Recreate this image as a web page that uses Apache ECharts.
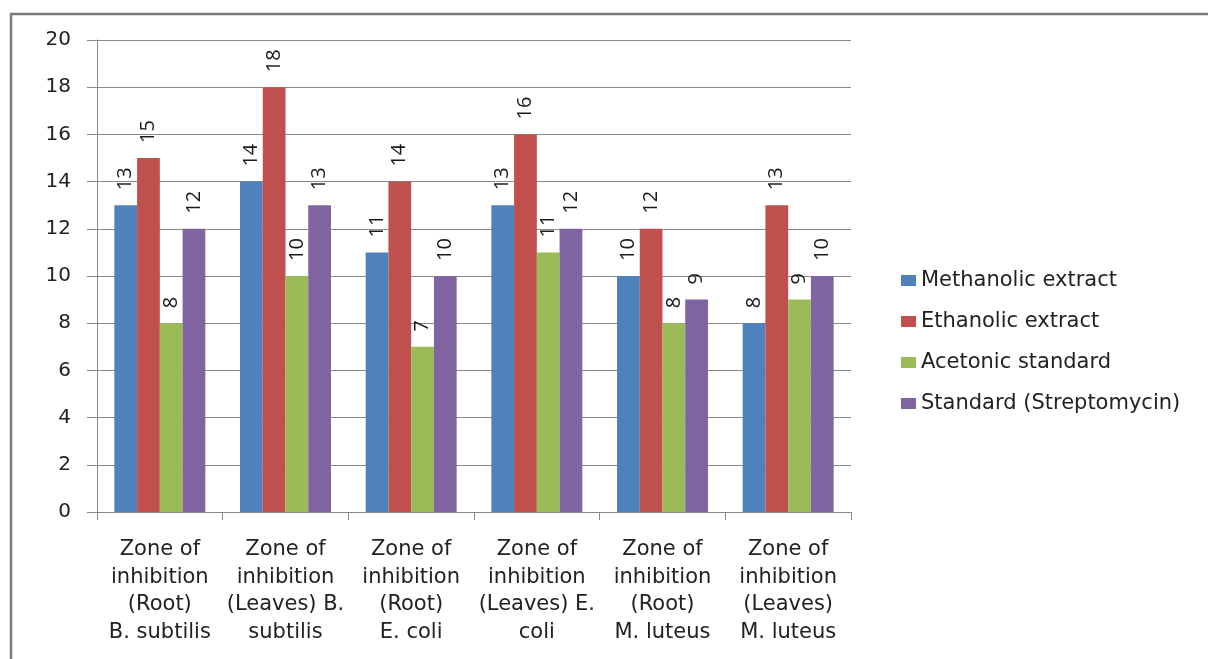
<!DOCTYPE html>
<html>
<head>
<meta charset="utf-8">
<script src="https://cdn.jsdelivr.net/npm/echarts@6/dist/echarts.min.js"></script>
<style>
  html, body { margin: 0; padding: 0; background: #fff; }
  #chart { width: 1208px; height: 659px; }
</style>
</head>
<body>
<div id="chart"></div>
<script>
// Zone of inhibition by extract and organism
const categories = [
  'Zone of\ninhibition\n(Root)\nB. subtilis',
  'Zone of\ninhibition\n(Leaves) B.\nsubtilis',
  'Zone of\ninhibition\n(Root)\nE. coli',
  'Zone of\ninhibition\n(Leaves) E.\ncoli',
  'Zone of\ninhibition\n(Root)\nM. luteus',
  'Zone of\ninhibition\n(Leaves)\nM. luteus'
];
const seriesNames = ['Methanolic extract', 'Ethanolic extract', 'Acetonic standard', 'Standard (Streptomycin)'];
const methanolic = [13, 14, 11, 13, 10, 8];
const ethanolic = [15, 18, 14, 16, 12, 13];
const acetonic = [8, 10, 7, 11, 8, 9];
const streptomycin = [12, 13, 10, 12, 9, 10];
const colors = ['#4F81BD', '#C0504D', '#9BBB59', '#8064A2'];
const WIDE = '"DejaVu Sans", "Open Sans", sans-serif';
const NARROW = '"Open Sans", "Liberation Sans", sans-serif';

const values = [methanolic, ethanolic, acetonic, streptomycin];

const chart = echarts.init(document.getElementById('chart'), null, { renderer: 'canvas' });

chart.setOption({
  animation: false,
  backgroundColor: '#fff',
  color: colors,
  grid: { left: 97, right: 357, top: 40, bottom: 147, containLabel: false },
  legend: {
    orient: 'vertical',
    left: 896,
    top: 265,
    itemWidth: 15,
    itemHeight: 11,
    itemGap: 20,
    icon: 'rect',
    textStyle: { fontFamily: WIDE, fontSize: 21, lineHeight: 20, color: '#222' },
    data: seriesNames
  },
  xAxis: {
    type: 'category',
    data: categories,
    axisLine: { lineStyle: { color: '#888', width: 1 } },
    axisTick: { show: true, length: 8, alignWithLabel: false, lineStyle: { color: '#888' } },
    axisLabel: {
      interval: 0,
      margin: 24,
      fontFamily: WIDE,
      fontSize: 21,
      lineHeight: 27.5,
      color: '#222',
      align: 'center'
    }
  },
  yAxis: {
    type: 'value',
    min: 0,
    max: 20,
    interval: 2,
    axisLine: { show: true, lineStyle: { color: '#888', width: 1 } },
    axisTick: { show: true, length: 10, lineStyle: { color: '#888' } },
    splitLine: { lineStyle: { color: '#8a8a8a', width: 1 } },
    axisLabel: { margin: 26, fontFamily: WIDE, fontSize: 20, color: '#222' }
  },
  series: seriesNames.map((name, i) => ({
    name,
    type: 'bar',
    data: values[i],
    barGap: '0%',
    barCategoryGap: '27.6%',
    itemStyle: { color: colors[i] },
    label: {
      show: true,
      position: 'top',
      rotate: 90,
      align: 'left',
      verticalAlign: 'middle',
      distance: 13,
      offset: [2, 0],
      fontFamily: NARROW,
      fontSize: 20,
      color: '#1a1a1a'
    }
  })),
  graphic: [
    {
      type: 'polyline',
      shape: { points: [[11, 659], [11, 14], [1208, 14]] },
      style: { stroke: '#7a7a7a', lineWidth: 2.5, fill: null },
      silent: true
    }
  ]
});
</script>
</body>
</html>
